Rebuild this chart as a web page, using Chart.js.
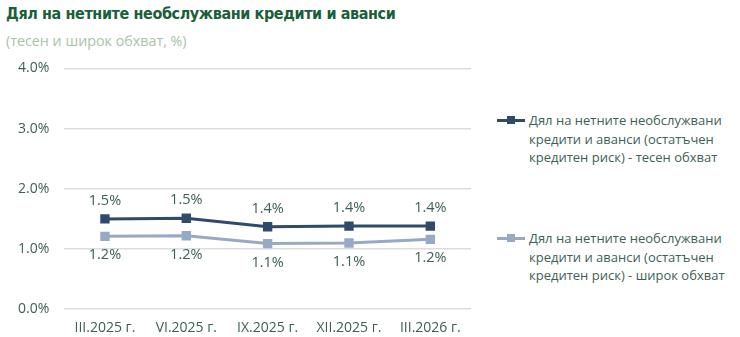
<!DOCTYPE html>
<html>
<head>
<meta charset="utf-8">
<script src="https://cdn.jsdelivr.net/npm/chart.js@4/dist/chart.umd.min.js"></script>
<style>
  body { margin: 0; background: #fff; font-family: "Open Sans", sans-serif; }
  #wrap { position: relative; width: 740px; height: 337px; overflow: hidden; }
  #title { position: absolute; left: 6px; top: 4px; font: bold 16px "Liberation Sans Narrow", "DejaVu Sans Condensed", sans-serif; letter-spacing: -0.4px; color: #1b5e3b; white-space: nowrap; }
  #subtitle { position: absolute; left: 6px; top: 31px; font-size: 14.3px; color: #a9c2a9; }
  #box { position: absolute; left: 0; top: 45px; width: 490px; height: 301px; }
  .leg { position: absolute; left: 497px; font-size: 13px; line-height: 18.5px; color: #3d5f55; }
  .leg .mk { position: absolute; left: 0; top: 8px; width: 28px; height: 3px; }
  .leg .mk span { position: absolute; left: 10px; top: -3px; width: 8px; height: 8px; }
  .leg .tx { margin-left: 32px; white-space: nowrap; }
</style>
</head>
<body>
<div id="wrap">
  <div id="title">Дял на нетните необслужвани кредити и аванси</div>
  <div id="subtitle">(тесен и широк обхват, %)</div>
  <div id="box"><canvas id="chart"></canvas></div>
  <div id="legend"></div>
</div>
<script>
const categories = ['III.2025 г.', 'VI.2025 г.', 'IX.2025 г.', 'XII.2025 г.', 'III.2026 г.'];
const narrowValues = [1.50, 1.51, 1.37, 1.38, 1.38];
const broadValues = [1.21, 1.22, 1.09, 1.10, 1.16];
const seriesNames = [
    ['Дял на нетните необслужвани', 'кредити и аванси (остатъчен', 'кредитен риск) - тесен обхват'],
    ['Дял на нетните необслужвани', 'кредити и аванси (остатъчен', 'кредитен риск) - широк обхват']
];
const yTicks = [0, 1, 2, 3, 4];

const darkColor = '#2f4a6b';
const lightColor = '#97aac4';
const textColor = '#3d5f55';

// labels above the dark line, below the light one
const pointLabels = {
    id: 'pointLabels',
    afterDatasetsDraw(chart) {
        const ctx = chart.ctx;
        ctx.save();
        ctx.font = '14.5px "Open Sans", sans-serif';
        ctx.fillStyle = textColor;
        ctx.textAlign = 'center';
        ctx.textBaseline = 'middle';
        chart.data.datasets.forEach((ds, i) => {
            const meta = chart.getDatasetMeta(i);
            meta.data.forEach((pt, j) => {
                const off = i === 0 ? -18 : 19;
                ctx.fillText(ds.data[j].toFixed(1) + '%', pt.x, pt.y + off);
            });
        });
        ctx.restore();
    }
};

const data = {
    labels: categories,
    datasets: [{
        label: seriesNames[0].join(' '),
        data: narrowValues,
        borderColor: darkColor,
        backgroundColor: darkColor,
        borderWidth: 3,
        pointStyle: 'rect',
        pointRadius: 4.5,
        pointHoverRadius: 4.5
    }, {
        label: seriesNames[1].join(' '),
        data: broadValues,
        borderColor: lightColor,
        backgroundColor: lightColor,
        borderWidth: 3,
        pointStyle: 'rect',
        pointRadius: 4.5,
        pointHoverRadius: 4.5
    }]
};

const config = {
    type: 'line',
    data: data,
    plugins: [pointLabels],
    options: {
        responsive: true,
        maintainAspectRatio: false,
        animation: false,
        layout: { padding: { top: 2, right: 19, bottom: 0, left: 3 } },
        plugins: {
            legend: { display: false },
            tooltip: { enabled: false }
        },
        scales: {
            x: {
                offset: true,
                grid: { display: false, drawTicks: false, tickLength: 0 },
                border: { display: false },
                ticks: { color: textColor, font: { size: 14, family: '"Open Sans", sans-serif' }, padding: 10 }
            },
            y: {
                min: 0,
                max: 4,
                afterBuildTicks: (axis) => { axis.ticks = yTicks.map(v => ({ value: v })); },
                grid: { color: '#dddddd', lineWidth: 1.5, drawTicks: false, tickLength: 0 },
                border: { display: false },
                ticks: {
                    color: textColor,
                    font: { size: 14, family: '"Open Sans", sans-serif' },
                    padding: 15,
                    callback: (v) => v.toFixed(1) + '%'
                }
            }
        }
    }
};

const myChart = new Chart(document.getElementById('chart'), config);

const legend = document.getElementById('legend');
const legendTops = [111, 229];
const legendColors = [darkColor, lightColor];
for (let i = 0; i < seriesNames.length; i++) {
    const div = document.createElement('div');
    div.setAttribute('class', 'leg');
    div.style.top = legendTops[i] + 'px';
    const mk = document.createElement('div');
    mk.setAttribute('class', 'mk');
    mk.style.background = legendColors[i];
    const sq = document.createElement('span');
    sq.style.background = legendColors[i];
    mk.appendChild(sq);
    const tx = document.createElement('div');
    tx.setAttribute('class', 'tx');
    tx.innerHTML = seriesNames[i].join('<br>');
    div.appendChild(mk);
    div.appendChild(tx);
    legend.appendChild(div);
}
</script>
</body>
</html>
